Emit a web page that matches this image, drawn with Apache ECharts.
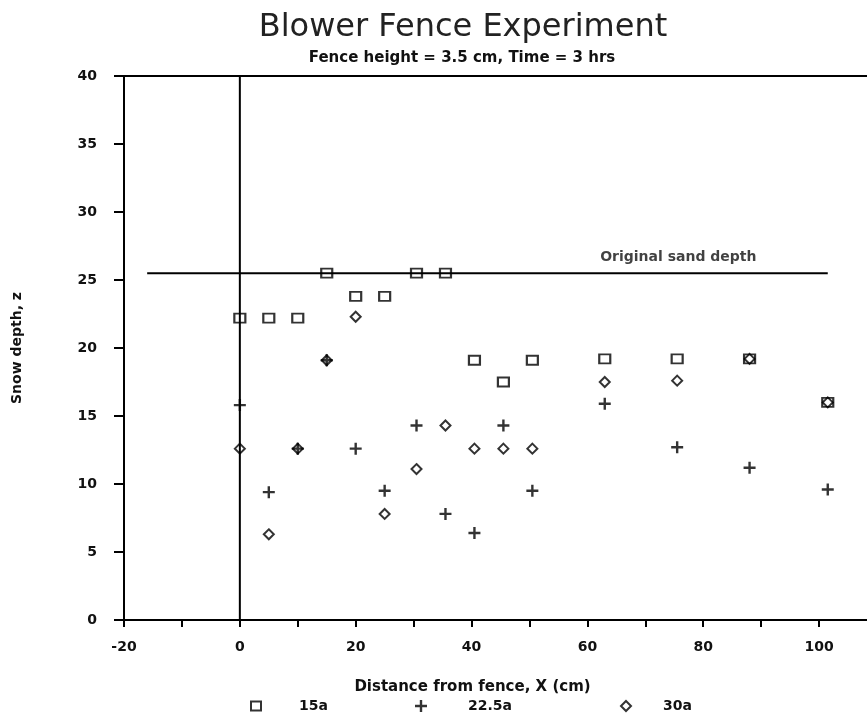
<!DOCTYPE html>
<html><head><meta charset="utf-8">
<script src="https://cdn.jsdelivr.net/npm/echarts@6/dist/echarts.min.js"></script>
<style>html,body{margin:0;padding:0;background:#fff}#c{width:867px;height:717px}</style>
</head><body><div id="c"></div>
<script>
// ---- text ----
const titleText = 'Blower Fence Experiment';
const subtitleText = 'Fence height = 3.5 cm, Time = 3 hrs';
const xAxisName = 'Distance from fence, X (cm)';
const yAxisName = 'Snow depth, z';
const seriesNames = ['15a', '22.5a', '30a'];
const sandLabelText = 'Original sand depth';

// ---- data ----
const x15 = [0, 5, 10, 15, 20, 25, 30.5, 35.5, 40.5, 45.5, 50.5, 63, 75.5, 88, 101.5];
const y15 = [22.2, 22.2, 22.2, 25.5, 23.8, 23.8, 25.5, 25.5, 19.1, 17.5, 19.1, 19.2, 19.2, 19.2, 16.0];

const x225 = [0, 5, 10, 15, 20, 25, 30.5, 35.5, 40.5, 45.5, 50.5, 63, 75.5, 88, 101.5];
const y225 = [15.8, 9.4, 12.6, 19.1, 12.6, 9.5, 14.3, 7.8, 6.4, 14.3, 9.5, 15.9, 12.7, 11.2, 9.6];

const x30 = [0, 5, 10, 15, 20, 25, 30.5, 35.5, 40.5, 45.5, 50.5, 63, 75.5, 88, 101.5];
const y30 = [12.6, 6.3, 12.6, 19.1, 22.3, 7.8, 11.1, 14.3, 12.6, 12.6, 12.6, 17.5, 17.6, 19.2, 16.0];

// reference lines
const fenceLineX = [0, 0];
const fenceLineY = [0, 40];
const sandLineX = [-16, 101.5];
const sandLineY = [25.5, 25.5];
const sandLabelX = [75.7];
const sandLabelY = [26.7];

// axes
const xMin = -20, xMax = 110, xStep = 10, xLabelStep = 20;
const yMin = 0, yMax = 40, yStep = 5;

const pairs = (xs, ys) => xs.map((x, i) => [x, ys[i]]);
const FONT = 'DejaVu Sans';
const INK = '#111';
const crossPath = 'path://M4.8,0H7.2V4.8H12V7.2H7.2V12H4.8V7.2H0V4.8H4.8Z';

const chart = echarts.init(document.getElementById('c'), null, {renderer: 'canvas'});
chart.setOption({
  animation: false,
  backgroundColor: '#fff',
  title: [
    {text: titleText, left: 463, top: 12, textAlign: 'center', padding: 0,
     textStyle: {fontFamily: FONT, fontSize: 32, fontWeight: 'normal', color: '#222'}},
    {text: subtitleText, left: 462, top: 51, textAlign: 'center', padding: 0,
     textStyle: {fontFamily: FONT, fontSize: 15, fontWeight: 'bold', color: INK}}
  ],
  legend: [
    {data: [seriesNames[0]], left: 245, top: 694, itemWidth: 10, itemHeight: 9, selectedMode: false,
     textStyle: {fontFamily: FONT, fontSize: 14, fontWeight: 'bold', color: INK, padding: [0, 0, 0, 33]}},
    {data: [seriesNames[1]], left: 410, top: 694, itemWidth: 12, itemHeight: 12, selectedMode: false,
     textStyle: {fontFamily: FONT, fontSize: 14, fontWeight: 'bold', color: INK, padding: [0, 0, 0, 36]}},
    {data: [seriesNames[2]], left: 615, top: 694, itemWidth: 10, itemHeight: 10, selectedMode: false,
     textStyle: {fontFamily: FONT, fontSize: 14, fontWeight: 'bold', color: INK, padding: [0, 0, 0, 27]}}
  ],
  grid: {left: 124, width: 753, top: 76, bottom: 97, show: true, borderColor: '#000', borderWidth: 2,
         backgroundColor: 'transparent', containLabel: false, outerBoundsMode: 'none'},
  xAxis: {
    type: 'value', min: xMin, max: xMax, interval: xStep,
    name: xAxisName, nameLocation: 'middle', nameGap: 60,
    nameTextStyle: {fontFamily: FONT, fontSize: 15, fontWeight: 'bold', color: INK, padding: [0, 56, 0, 0]},
    axisLine: {show: true, onZero: false, lineStyle: {color: '#000', width: 2}},
    axisTick: {show: true, length: 7, lineStyle: {color: '#000', width: 2}},
    axisLabel: {margin: 20, fontFamily: FONT, fontSize: 14, fontWeight: 'bold', color: INK,
                formatter: v => (v % xLabelStep === 0 ? String(v) : '')},
    splitLine: {show: false}
  },
  yAxis: {
    type: 'value', min: yMin, max: yMax, interval: yStep,
    name: yAxisName, nameLocation: 'middle', nameGap: 100,
    nameTextStyle: {fontFamily: FONT, fontSize: 14, fontWeight: 'bold', color: INK},
    axisLine: {show: true, onZero: false, lineStyle: {color: '#000', width: 2}},
    axisTick: {show: true, length: 10, lineStyle: {color: '#000', width: 2}},
    axisLabel: {margin: 27, fontFamily: FONT, fontSize: 14, fontWeight: 'bold', color: INK},
    splitLine: {show: false}
  },
  series: [
    {type: 'line', name: 'fence', data: pairs(fenceLineX, fenceLineY), symbol: 'none', silent: true,
     lineStyle: {color: '#000', width: 2}, z: 1},
    {type: 'line', name: 'sand', data: pairs(sandLineX, sandLineY), symbol: 'none', silent: true,
     lineStyle: {color: '#000', width: 2}, z: 1},
    {type: 'scatter', name: 'sandLabel', data: pairs(sandLabelX, sandLabelY), symbolSize: 0, silent: true,
     label: {show: true, position: 'inside', formatter: sandLabelText,
             fontFamily: FONT, fontSize: 14, fontWeight: 'bold', color: INK}},
    {type: 'scatter', name: seriesNames[0], data: pairs(x15, y15), symbol: 'rect', symbolSize: [11, 9],
     itemStyle: {color: 'rgba(0,0,0,0)', borderColor: '#000', borderWidth: 2}, z: 3},
    {type: 'scatter', name: seriesNames[1], data: pairs(x225, y225), symbol: crossPath, symbolSize: [12, 12],
     itemStyle: {color: '#000'}, z: 3},
    {type: 'scatter', name: seriesNames[2], data: pairs(x30, y30), symbol: 'diamond', symbolSize: [10, 10],
     itemStyle: {color: 'rgba(0,0,0,0)', borderColor: '#000', borderWidth: 2}, z: 3}
  ]
});
</script>
</body></html>
